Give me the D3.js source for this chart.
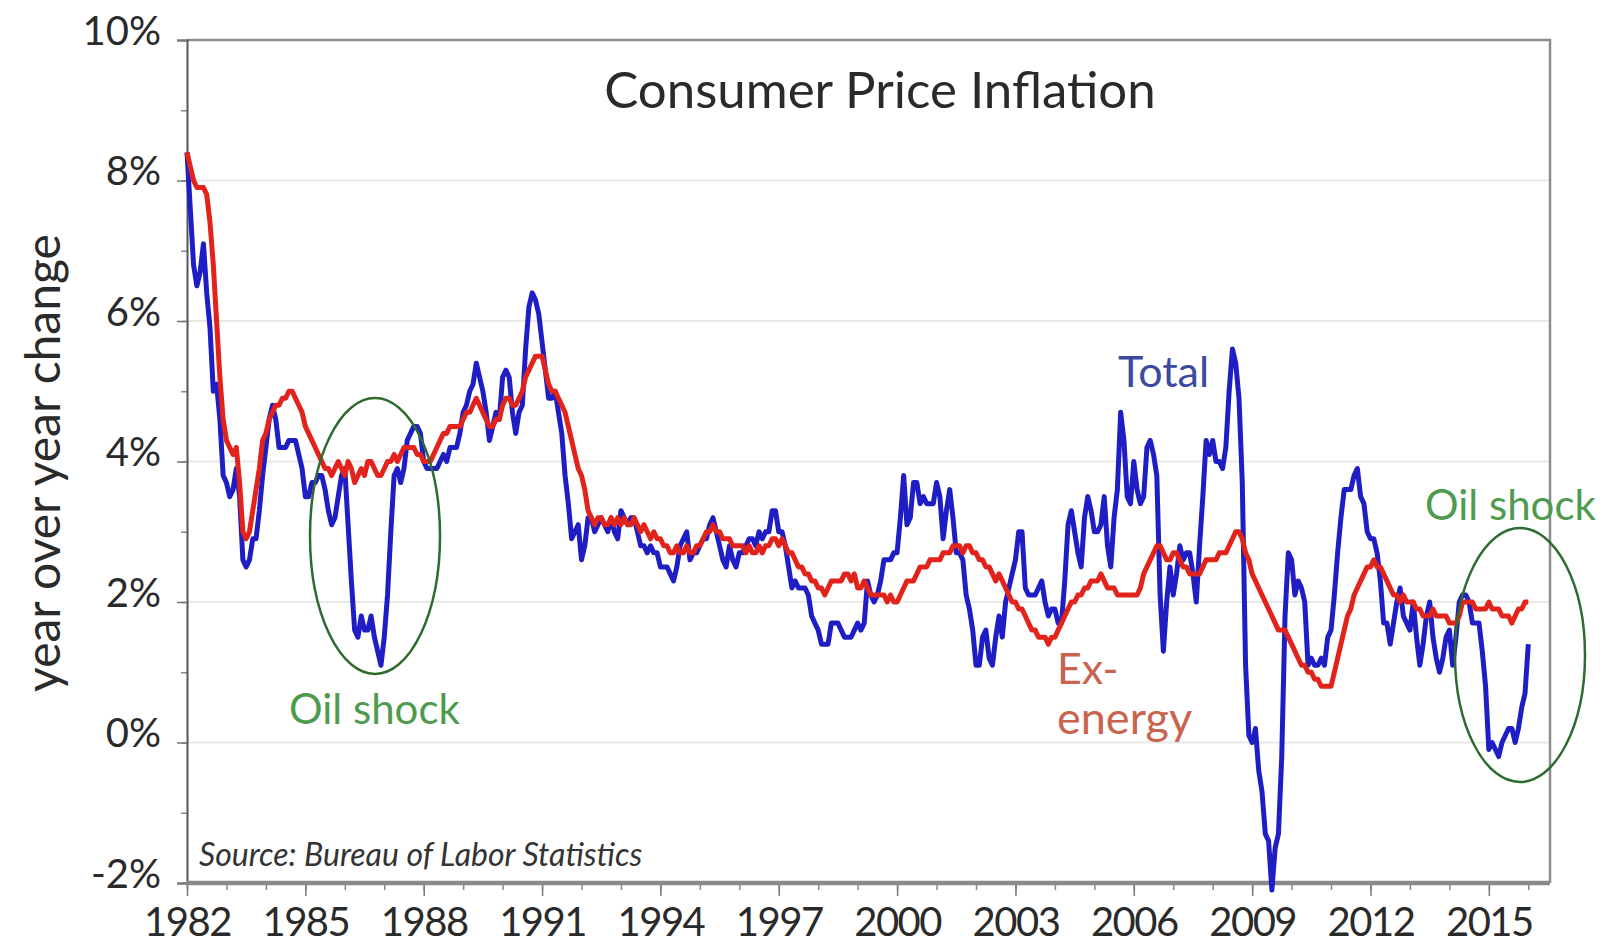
<!DOCTYPE html>
<html>
<head>
<meta charset="utf-8">
<script src="https://cdn.jsdelivr.net/npm/d3@7"></script>
<style>
  body { margin: 0; background: #fff; }
  svg text { font-family: Lato, "Open Sans", sans-serif; }
</style>
</head>
<body>
<script>
// monthly year-over-year change, Jan 1982 .. Jan 2016
const startYear = 1982;

const totalCpi = [
  8.4, 7.6, 6.8, 6.5, 6.7, 7.1, 6.4, 5.9, 5.0, 5.1, 4.6, 3.8,   // 1982
  3.7, 3.5, 3.6, 3.9, 3.5, 2.6, 2.5, 2.6, 2.9, 2.9, 3.3, 3.8,   // 1983
  4.2, 4.6, 4.8, 4.6, 4.2, 4.2, 4.2, 4.3, 4.3, 4.3, 4.1, 3.9,   // 1984
  3.5, 3.5, 3.7, 3.7, 3.8, 3.8, 3.6, 3.3, 3.1, 3.2, 3.5, 3.8,   // 1985
  3.9, 3.1, 2.3, 1.6, 1.5, 1.8, 1.6, 1.6, 1.8, 1.5, 1.3, 1.1,   // 1986
  1.5, 2.1, 3.0, 3.8, 3.9, 3.7, 3.9, 4.3, 4.4, 4.5, 4.5, 4.4,   // 1987
  4.0, 3.9, 3.9, 3.9, 3.9, 4.0, 4.1, 4.0, 4.2, 4.2, 4.2, 4.4,   // 1988
  4.7, 4.8, 5.0, 5.1, 5.4, 5.2, 5.0, 4.7, 4.3, 4.5, 4.7, 4.6,   // 1989
  5.2, 5.3, 5.2, 4.7, 4.4, 4.7, 4.8, 5.6, 6.2, 6.4, 6.3, 6.1,   // 1990
  5.7, 5.3, 4.9, 4.9, 5.0, 4.7, 4.4, 3.8, 3.4, 2.9, 3.0, 3.1,   // 1991
  2.6, 2.8, 3.2, 3.2, 3.0, 3.1, 3.2, 3.1, 3.0, 3.2, 3.0, 2.9,   // 1992
  3.3, 3.2, 3.1, 3.2, 3.2, 3.0, 2.8, 2.8, 2.7, 2.8, 2.7, 2.7,   // 1993
  2.5, 2.5, 2.5, 2.4, 2.3, 2.5, 2.8, 2.9, 3.0, 2.6, 2.7, 2.7,   // 1994
  2.8, 2.9, 2.9, 3.1, 3.2, 3.0, 2.8, 2.6, 2.5, 2.8, 2.6, 2.5,   // 1995
  2.7, 2.7, 2.8, 2.9, 2.9, 2.8, 3.0, 2.9, 3.0, 3.0, 3.3, 3.3,   // 1996
  3.0, 3.0, 2.8, 2.5, 2.2, 2.3, 2.2, 2.2, 2.2, 2.1, 1.8, 1.7,   // 1997
  1.6, 1.4, 1.4, 1.4, 1.7, 1.7, 1.7, 1.6, 1.5, 1.5, 1.5, 1.6,   // 1998
  1.7, 1.6, 1.7, 2.3, 2.1, 2.0, 2.1, 2.3, 2.6, 2.6, 2.6, 2.7,   // 1999
  2.7, 3.2, 3.8, 3.1, 3.2, 3.7, 3.7, 3.4, 3.5, 3.4, 3.4, 3.4,   // 2000
  3.7, 3.5, 2.9, 3.3, 3.6, 3.2, 2.7, 2.7, 2.6, 2.1, 1.9, 1.6,   // 2001
  1.1, 1.1, 1.5, 1.6, 1.2, 1.1, 1.5, 1.8, 1.5, 2.0, 2.2, 2.4,   // 2002
  2.6, 3.0, 3.0, 2.2, 2.1, 2.1, 2.1, 2.2, 2.3, 2.0, 1.8, 1.9,   // 2003
  1.9, 1.7, 1.7, 2.3, 3.1, 3.3, 3.0, 2.7, 2.5, 3.2, 3.5, 3.3,   // 2004
  3.0, 3.0, 3.1, 3.5, 2.8, 2.5, 3.2, 3.6, 4.7, 4.3, 3.5, 3.4,   // 2005
  4.0, 3.6, 3.4, 3.5, 4.2, 4.3, 4.1, 3.8, 2.1, 1.3, 2.0, 2.5,   // 2006
  2.1, 2.4, 2.8, 2.6, 2.7, 2.7, 2.4, 2.0, 2.8, 3.5, 4.3, 4.1,   // 2007
  4.3, 4.0, 4.0, 3.9, 4.2, 5.0, 5.6, 5.4, 4.9, 3.7, 1.1, 0.1,   // 2008
  0.0, 0.2, -0.4, -0.7, -1.3, -1.4, -2.1, -1.5, -1.3, -0.2, 1.8, 2.7, // 2009
  2.6, 2.1, 2.3, 2.2, 2.0, 1.1, 1.2, 1.1, 1.1, 1.2, 1.1, 1.5,   // 2010
  1.6, 2.1, 2.7, 3.2, 3.6, 3.6, 3.6, 3.8, 3.9, 3.5, 3.4, 3.0,   // 2011
  2.9, 2.9, 2.7, 2.3, 1.7, 1.7, 1.4, 1.7, 2.0, 2.2, 1.8, 1.7,   // 2012
  1.6, 2.0, 1.5, 1.1, 1.4, 1.8, 2.0, 1.5, 1.2, 1.0, 1.2, 1.5,   // 2013
  1.6, 1.1, 1.5, 2.0, 2.1, 2.1, 2.0, 1.7, 1.7, 1.7, 1.3, 0.8,   // 2014
  -0.1, 0.0, -0.1, -0.2, 0.0, 0.1, 0.2, 0.2, 0.0, 0.2, 0.5, 0.7, // 2015
  1.4                                                           // 2016
];

const exEnergyCpi = [
  8.4, 8.2, 8.0, 7.9, 7.9, 7.9, 7.8, 7.4, 6.8, 6.0, 5.2, 4.6,   // 1982
  4.3, 4.2, 4.1, 4.2, 3.7, 3.0, 2.9, 3.0, 3.3, 3.6, 3.9, 4.3,   // 1983
  4.4, 4.6, 4.7, 4.8, 4.8, 4.9, 4.9, 5.0, 5.0, 4.9, 4.8, 4.7,   // 1984
  4.5, 4.4, 4.3, 4.2, 4.1, 4.0, 3.9, 3.9, 3.8, 3.9, 4.0, 3.9,   // 1985
  3.8, 4.0, 3.9, 3.7, 3.8, 3.9, 3.8, 4.0, 4.0, 3.9, 3.8, 3.8,   // 1986
  3.9, 4.0, 4.0, 4.1, 4.0, 4.1, 4.2, 4.2, 4.2, 4.2, 4.1, 4.1,   // 1987
  4.0, 4.0, 4.0, 4.1, 4.2, 4.3, 4.4, 4.4, 4.5, 4.5, 4.5, 4.5,   // 1988
  4.6, 4.7, 4.7, 4.8, 4.9, 4.8, 4.7, 4.6, 4.5, 4.5, 4.6, 4.6,   // 1989
  4.8, 4.9, 4.9, 4.8, 4.8, 4.9, 5.0, 5.2, 5.3, 5.4, 5.5, 5.5,   // 1990
  5.5, 5.3, 5.1, 5.0, 5.0, 4.9, 4.8, 4.7, 4.5, 4.3, 4.1, 3.9,   // 1991
  3.8, 3.6, 3.3, 3.2, 3.1, 3.2, 3.2, 3.1, 3.1, 3.2, 3.1, 3.2,   // 1992
  3.1, 3.2, 3.1, 3.1, 3.2, 3.1, 3.0, 3.1, 3.0, 2.9, 3.0, 2.9,   // 1993
  2.9, 2.8, 2.8, 2.7, 2.7, 2.8, 2.7, 2.7, 2.8, 2.7, 2.7, 2.8,   // 1994
  2.8, 2.9, 3.0, 3.0, 3.1, 3.0, 3.0, 2.9, 2.9, 2.9, 2.8, 2.8,   // 1995
  2.8, 2.8, 2.7, 2.8, 2.7, 2.7, 2.8, 2.7, 2.8, 2.8, 2.9, 2.9,   // 1996
  2.8, 2.9, 2.8, 2.7, 2.7, 2.6, 2.5, 2.5, 2.4, 2.4, 2.3, 2.3,   // 1997
  2.2, 2.2, 2.1, 2.2, 2.3, 2.3, 2.3, 2.3, 2.4, 2.4, 2.3, 2.4,   // 1998
  2.2, 2.2, 2.3, 2.2, 2.1, 2.1, 2.1, 2.1, 2.1, 2.0, 2.1, 2.0,   // 1999
  2.0, 2.1, 2.2, 2.3, 2.3, 2.3, 2.4, 2.5, 2.5, 2.5, 2.6, 2.6,   // 2000
  2.6, 2.6, 2.7, 2.7, 2.7, 2.8, 2.8, 2.8, 2.7, 2.8, 2.8, 2.7,   // 2001
  2.7, 2.6, 2.6, 2.5, 2.5, 2.4, 2.3, 2.4, 2.3, 2.2, 2.1, 2.0,   // 2002
  2.0, 1.9, 1.9, 1.8, 1.7, 1.6, 1.6, 1.5, 1.5, 1.5, 1.4, 1.5,   // 2003
  1.5, 1.6, 1.7, 1.8, 1.9, 2.0, 2.0, 2.1, 2.1, 2.2, 2.2, 2.3,   // 2004
  2.3, 2.3, 2.4, 2.3, 2.2, 2.2, 2.2, 2.1, 2.1, 2.1, 2.1, 2.1,   // 2005
  2.1, 2.1, 2.2, 2.4, 2.5, 2.6, 2.7, 2.8, 2.8, 2.7, 2.6, 2.6,   // 2006
  2.7, 2.7, 2.6, 2.5, 2.5, 2.4, 2.4, 2.4, 2.4, 2.5, 2.6, 2.6,   // 2007
  2.6, 2.6, 2.7, 2.7, 2.7, 2.8, 2.9, 3.0, 3.0, 2.9, 2.7, 2.6,   // 2008
  2.4, 2.3, 2.2, 2.1, 2.0, 1.9, 1.8, 1.7, 1.6, 1.6, 1.6, 1.5,   // 2009
  1.4, 1.3, 1.2, 1.1, 1.1, 1.0, 1.0, 0.9, 0.9, 0.8, 0.8, 0.8,   // 2010
  0.8, 1.0, 1.2, 1.4, 1.6, 1.8, 1.9, 2.1, 2.2, 2.3, 2.4, 2.5,   // 2011
  2.5, 2.6, 2.5, 2.5, 2.4, 2.3, 2.2, 2.1, 2.1, 2.0, 2.1, 2.0,   // 2012
  2.0, 2.0, 1.9, 1.9, 1.8, 1.8, 1.8, 1.9, 1.8, 1.8, 1.8, 1.8,   // 2013
  1.7, 1.7, 1.7, 1.8, 2.0, 2.0, 2.0, 2.0, 1.9, 1.9, 1.9, 1.9,   // 2014
  2.0, 1.9, 1.9, 1.9, 1.8, 1.8, 1.8, 1.7, 1.8, 1.9, 1.9, 2.0,   // 2015
  2.0                                                           // 2016
];

const yearTicks = [1982, 1985, 1988, 1991, 1994, 1997, 2000, 2003, 2006, 2009, 2012, 2015];
const minorYears = d3.range(1982, 2017);
const pctTicks = [-2, 0, 2, 4, 6, 8, 10];
const minorPct = d3.range(-2, 11);

const W = 1608, H = 949;
const mLeft = 187, mRight = 1550, mTop = 40, mBottom = 883;

const svg = d3.select("body").append("svg")
    .attr("width", W)
    .attr("height", H);

const x = d3.scaleLinear().domain([1982, 2016.55]).range([mLeft, mRight]);
const y = d3.scaleLinear().domain([-2, 10]).range([mBottom, mTop]);

// light horizontal grid
svg.append("g")
  .selectAll("line")
  .data(pctTicks.filter(d => d > -2 && d < 10))
  .enter().append("line")
    .attr("x1", mLeft).attr("x2", mRight)
    .attr("y1", d => y(d)).attr("y2", d => y(d))
    .attr("stroke", "#e9e9e9")
    .attr("stroke-width", 2);

// frame: top and right in light grey
svg.append("path")
    .attr("d", `M${mLeft},${mTop}H${mRight}V${mBottom}`)
    .attr("fill", "none")
    .attr("stroke", "#8c8c8c")
    .attr("stroke-width", 2.5);

// minor x ticks
svg.append("g")
    .attr("transform", "translate(0," + mBottom + ")")
    .call(d3.axisBottom(x).tickValues(minorYears).tickSize(7).tickFormat(""))
    .call(g => g.select(".domain").remove())
    .selectAll("line").attr("stroke", "#888").attr("stroke-width", 1.5);

// major x axis
const xAxis = svg.append("g")
    .attr("transform", "translate(0," + mBottom + ")")
    .call(d3.axisBottom(x).tickValues(yearTicks).tickFormat(d3.format("d")).tickSize(13).tickPadding(12));
xAxis.select(".domain").remove();
xAxis.selectAll("line").attr("stroke", "#777").attr("stroke-width", 1.5);
xAxis.selectAll("text")
    .attr("font-size", 40)
    .attr("letter-spacing", "-1.5px")
    .attr("fill", "#2a2a2a");

// minor y ticks
svg.append("g")
    .attr("transform", "translate(" + mLeft + ",0)")
    .call(d3.axisLeft(y).tickValues(minorPct).tickSize(6).tickFormat(""))
    .call(g => g.select(".domain").remove())
    .selectAll("line").attr("stroke", "#888").attr("stroke-width", 1.5);

// y axis
const yAxis = svg.append("g")
    .attr("transform", "translate(" + mLeft + ",0)")
    .call(d3.axisLeft(y).tickValues(pctTicks).tickFormat(d => d + "%").tickSize(10).tickPadding(16));
yAxis.select(".domain").attr("stroke", "#555").attr("stroke-width", 2);
yAxis.selectAll("line").attr("stroke", "#777").attr("stroke-width", 1.5);
yAxis.selectAll("text")
    .attr("font-size", 40)
    .attr("dy", "0.1em")
    .attr("fill", "#2a2a2a");

// heavy bottom axis line
svg.append("line")
    .attr("x1", mLeft).attr("x2", mRight)
    .attr("y1", mBottom).attr("y2", mBottom)
    .attr("stroke", "#8a8a8a")
    .attr("stroke-width", 4.5);

const line = d3.line()
    .x((d, i) => x(startYear + i / 12))
    .y(d => y(d));

svg.append("path")
    .datum(totalCpi)
    .attr("d", line)
    .attr("fill", "none")
    .attr("stroke", "#1e1ec4")
    .attr("stroke-width", 5)
    .attr("stroke-linejoin", "round");

svg.append("path")
    .datum(exEnergyCpi)
    .attr("d", line)
    .attr("fill", "none")
    .attr("stroke", "#e2231c")
    .attr("stroke-width", 5)
    .attr("stroke-linejoin", "round");

// oil shock ellipses
svg.append("ellipse")
    .attr("cx", 375).attr("cy", 536).attr("rx", 65).attr("ry", 138)
    .attr("fill", "none").attr("stroke", "#2e6b2e").attr("stroke-width", 2.5);
svg.append("ellipse")
    .attr("cx", 1520).attr("cy", 655).attr("rx", 65).attr("ry", 127)
    .attr("fill", "none").attr("stroke", "#2e6b2e").attr("stroke-width", 2.5);

// title
svg.append("text")
    .attr("x", 880).attr("y", 108)
    .attr("text-anchor", "middle")
    .attr("font-size", 51)
    .attr("fill", "#2a2a2a")
    .text("Consumer Price Inflation");

// y axis title
svg.append("text")
    .attr("transform", "translate(60,463) rotate(-90)")
    .attr("text-anchor", "middle")
    .attr("font-size", 48)
    .attr("fill", "#2a2a2a")
    .text("year over year change");

// source
svg.append("text")
    .attr("x", 199).attr("y", 866)
    .attr("font-size", 32)
    .attr("font-style", "italic")
    .attr("fill", "#333")
    .text("Source: Bureau of Labor Statistics");

// annotations
svg.append("text")
    .attr("x", 1118).attr("y", 387)
    .attr("font-size", 43)
    .attr("fill", "#3b4a9e")
    .text("Total");

svg.append("text")
    .attr("x", 1057).attr("y", 684)
    .attr("font-size", 43)
    .attr("fill", "#c8644e")
    .text("Ex-");
svg.append("text")
    .attr("x", 1057).attr("y", 734)
    .attr("font-size", 45)
    .attr("fill", "#c8644e")
    .text("energy");

svg.append("text")
    .attr("x", 289).attr("y", 724)
    .attr("font-size", 42)
    .attr("fill", "#4e9a4e")
    .text("Oil shock");
svg.append("text")
    .attr("x", 1425).attr("y", 520)
    .attr("font-size", 42)
    .attr("fill", "#4e9a4e")
    .text("Oil shock");
</script>
</body>
</html>
